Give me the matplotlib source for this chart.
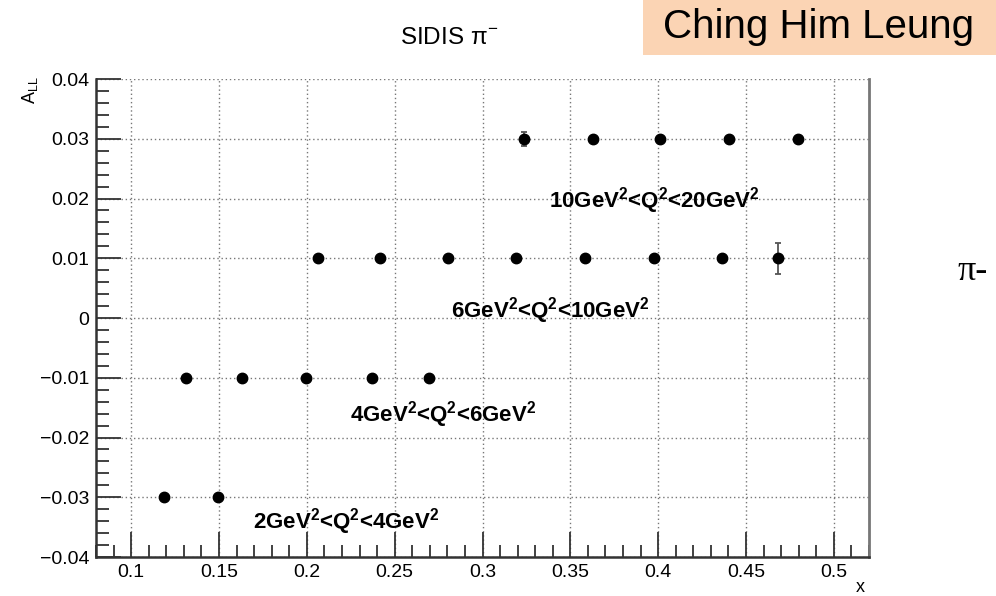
import matplotlib
matplotlib.use("Agg")
import matplotlib.pyplot as plt
from matplotlib.patches import Rectangle
from matplotlib.ticker import MultipleLocator, FuncFormatter

plt.rcParams['font.family'] = ['Liberation Sans', 'DejaVu Sans']
plt.rcParams['mathtext.fontset'] = 'custom'
plt.rcParams['mathtext.rm'] = 'Liberation Sans'
plt.rcParams['mathtext.it'] = 'Liberation Sans:italic'
plt.rcParams['mathtext.bf'] = 'Liberation Sans:bold'

# x bins and A_LL per Q^2 bin
x_q2_2_4 = [0.1188, 0.1496]
all_q2_2_4 = [-0.03, -0.03]
err_q2_2_4 = [0.0003, 0.0003]

x_q2_4_6 = [0.1313, 0.1632, 0.1997, 0.2373, 0.2698]
all_q2_4_6 = [-0.01, -0.01, -0.01, -0.01, -0.01]
err_q2_4_6 = [0.0003, 0.0003, 0.0003, 0.0003, 0.0004]

x_q2_6_10 = [0.2066, 0.2419, 0.2806, 0.3188, 0.3581, 0.3974, 0.4362, 0.4681]
all_q2_6_10 = [0.01, 0.01, 0.01, 0.01, 0.01, 0.01, 0.01, 0.01]
err_q2_6_10 = [0.0003, 0.0003, 0.0003, 0.0003, 0.0003, 0.0004, 0.0006, 0.0026]

x_q2_10_20 = [0.3234, 0.3627, 0.4009, 0.4402, 0.4795]
all_q2_10_20 = [0.03, 0.03, 0.03, 0.03, 0.03]
err_q2_10_20 = [0.0012, 0.0005, 0.0004, 0.0004, 0.0004]

bin_labels = [r'$\mathbf{2GeV^{2}}$<$\mathbf{Q^{2}}$<$\mathbf{4GeV^{2}}$',
              r'$\mathbf{4GeV^{2}}$<$\mathbf{Q^{2}}$<$\mathbf{6GeV^{2}}$',
              r'$\mathbf{6GeV^{2}}$<$\mathbf{Q^{2}}$<$\mathbf{10GeV^{2}}$',
              r'$\mathbf{10GeV^{2}}$<$\mathbf{Q^{2}}$<$\mathbf{20GeV^{2}}$']
label_x = [0.1695, 0.2248, 0.2823, 0.338]
label_y = [-0.0341, -0.0162, 0.0013, 0.0197]

fig = plt.figure(figsize=(9.96, 5.96), dpi=100)
ax = fig.add_axes([0.0964, 0.0654, 0.7761, 0.802])

series = [(x_q2_2_4, all_q2_2_4, err_q2_2_4),
          (x_q2_4_6, all_q2_4_6, err_q2_4_6),
          (x_q2_6_10, all_q2_6_10, err_q2_6_10),
          (x_q2_10_20, all_q2_10_20, err_q2_10_20)]
for xs, ys, es in series:
    ax.errorbar(xs, ys, yerr=es, fmt='o', color='black', ms=7.5,
                ecolor='#555555', elinewidth=1.3, capsize=2.5, capthick=1.3, zorder=3)

for txt, lx, ly in zip(bin_labels, label_x, label_y):
    ax.text(lx, ly, txt, fontsize=16, fontweight='bold', ha='left', va='center')

ax.set_xlim(0.08, 0.52)
ax.set_ylim(-0.04, 0.04)
ax.xaxis.set_major_locator(MultipleLocator(0.05))
ax.xaxis.set_minor_locator(MultipleLocator(0.01))
ax.yaxis.set_major_locator(MultipleLocator(0.01))
ax.yaxis.set_minor_locator(MultipleLocator(0.002))


def fmt(v, pos):
    if abs(v) < 1e-9:
        return '0'
    s = ('%.2f' % v).rstrip('0')
    return s.replace('-', '\u2212')


ax.xaxis.set_major_formatter(FuncFormatter(fmt))
ax.yaxis.set_major_formatter(FuncFormatter(fmt))

ax.grid(True, which='major', linestyle=(0, (1, 2)), color='#777777', linewidth=1.0)
ax.tick_params(which='both', direction='in', top=False, right=False,
               labelsize=14, color='#333333', width=1.3)
ax.tick_params(which='major', length=18, pad=5)
ax.tick_params(which='minor', length=9)

ax.spines['top'].set_visible(False)
for side in ['left', 'bottom']:
    ax.spines[side].set_linewidth(1.8)
    ax.spines[side].set_color('#333333')
ax.spines['right'].set_linewidth(2.0)
ax.spines['right'].set_color('#777777')

# axis titles sit in ROOT positions: x at lower right, A_LL at upper left
fig.text(860 / 996, 1 - 588 / 596, 'x', fontsize=13, ha='center', va='center')
fig.text(30 / 996, 1 - 90 / 596, r'A$_{\mathregular{LL}}$', fontsize=13,
         rotation=90, ha='center', va='center')

fig.text(449 / 996, 1 - 38 / 596, r'SIDIS $\mathregular{\pi^{-}}$', fontsize=17.5,
         ha='center', va='center')

fig.patches.append(Rectangle((643 / 996, 1 - 55 / 596), 353 / 996, 55 / 596,
                             transform=fig.transFigure, facecolor='#FBD4B4',
                             edgecolor='none', zorder=0))
fig.text(663 / 996, 1 - 27 / 596, 'Ching Him Leung', fontsize=29, ha='left', va='center')

fig.text(957 / 996, 1 - 272 / 596, '\u03c0-', fontsize=26, ha='left', va='center',
         family=['Liberation Serif', 'DejaVu Serif'])

fig.savefig('out.png', dpi=100)
